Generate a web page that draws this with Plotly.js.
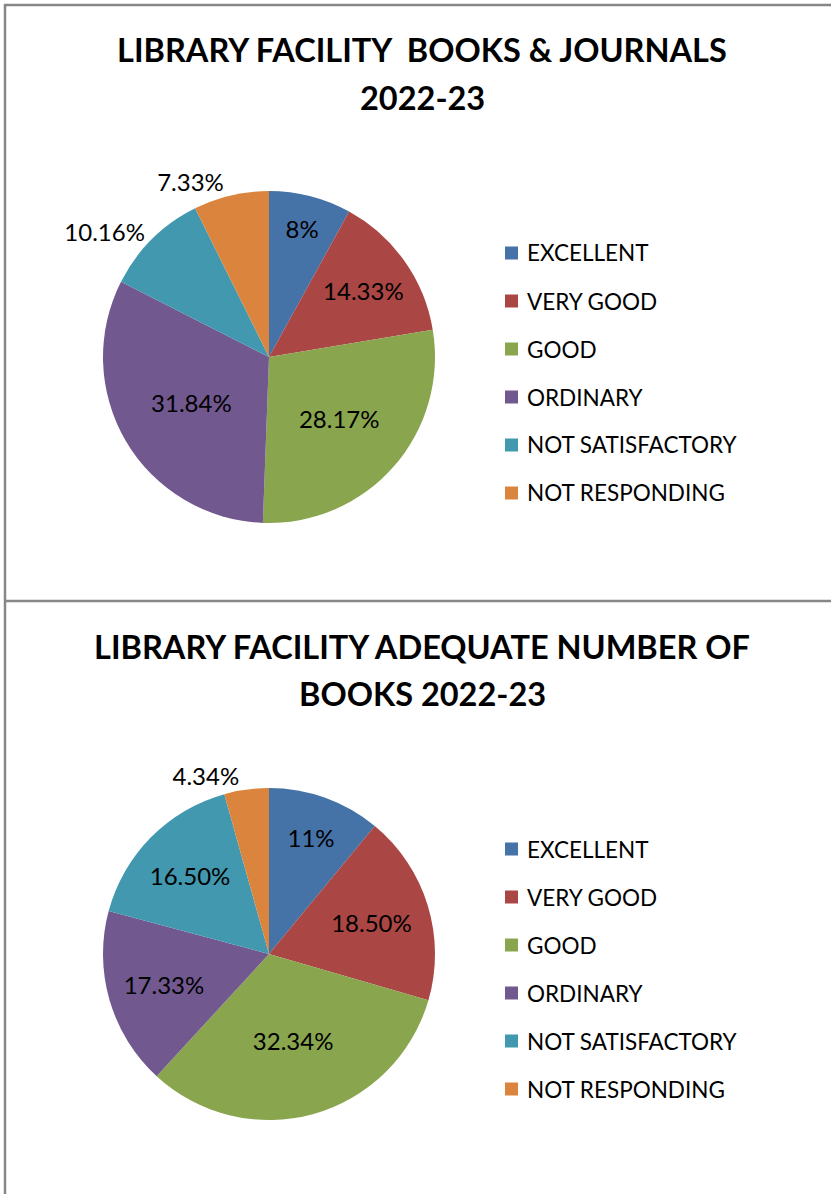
<!DOCTYPE html>
<html>
<head>
<meta charset="utf-8">
<script src="https://cdn.plot.ly/plotly-3.0.1.min.js"></script>
<style>html,body{margin:0;padding:0;background:#fff;}#chart{width:831px;height:1194px;}</style>
</head>
<body>
<div id="chart"></div>
<script>
// ---- data ----
const categories = ["EXCELLENT", "VERY GOOD", "GOOD", "ORDINARY", "NOT SATISFACTORY", "NOT RESPONDING"];
const colors = ["#4572A7", "#AA4643", "#89A54E", "#71588F", "#4198AF", "#DB843D"];

const title1 = ["LIBRARY FACILITY  BOOKS & JOURNALS", "2022-23"];
const values1 = [8, 14.33, 28.17, 31.84, 10.16, 7.33];
const labels1 = ["8%", "14.33%", "28.17%", "31.84%", "10.16%", "7.33%"];
const pos1 = ["inside", "inside", "inside", "inside", "outside", "outside"];

const title2 = ["LIBRARY FACILITY ADEQUATE NUMBER OF", "BOOKS 2022-23"];
const values2 = [11, 18.50, 32.34, 17.33, 16.50, 4.34];
const labels2 = ["11%", "18.50%", "32.34%", "17.33%", "16.50%", "4.34%"];
const pos2 = ["inside", "inside", "inside", "inside", "inside", "outside"];

// ---- layout helpers ----
const W = 831, H = 1194;
const FONT = "Lato, 'Liberation Sans', Arial, sans-serif";
const px = x => x / W;
const py = y => 1 - y / H;

function pieTrace(values, text, pos, cy) {
  const cx = 269, r = 166;
  return {
    type: "pie",
    values: values,
    labels: categories,
    text: text,
    textinfo: "text",
    textposition: pos,
    insidetextorientation: "horizontal",
    sort: false,
    direction: "clockwise",
    rotation: 0,
    marker: {colors: colors, line: {width: 0}},
    textfont: {family: FONT, size: 24, color: "#000"},
    insidetextfont: {family: FONT, size: 24, color: "#000"},
    outsidetextfont: {family: FONT, size: 24, color: "#000"},
    showlegend: false,
    hoverinfo: "label+text",
    domain: {x: [px(cx - r), px(cx + r)], y: [py(cy + r), py(cy - r)]}
  };
}

const traces = [pieTrace(values1, labels1, pos1, 357), pieTrace(values2, labels2, pos2, 954)];

const shapes = [
  {type: "line", xref: "paper", yref: "paper", x0: px(5), x1: px(5), y0: py(4), y1: py(1200), line: {color: "#878787", width: 2.5}},
  {type: "line", xref: "paper", yref: "paper", x0: px(4), x1: px(840), y0: py(5), y1: py(5), line: {color: "#878787", width: 2.5}},
  {type: "line", xref: "paper", yref: "paper", x0: px(4), x1: px(840), y0: py(601), y1: py(601), line: {color: "#878787", width: 2.5}}
];
const annotations = [];
[[title1, 49], [title2, 645]].forEach(([lines, y0]) => {
  lines.forEach((t, i) => {
    annotations.push({text: t, x: px(422), y: py(y0 + 47 * i + 1), xref: "paper", yref: "paper",
      xanchor: "center", yanchor: "middle", showarrow: false,
      font: {family: FONT, size: 32.5, color: "#000", weight: "bold"}});
  });
});

// manual legends built from categories/colors
[253, 849].forEach(top => {
  categories.forEach((c, i) => {
    const yc = top + 48 * i;
    shapes.push({type: "rect", xref: "paper", yref: "paper", x0: px(505), x1: px(518), y0: py(yc + 6.5), y1: py(yc - 6.5),
      fillcolor: colors[i], line: {width: 0}});
    annotations.push({text: c, x: px(525), y: py(yc), xref: "paper", yref: "paper", xanchor: "left", yanchor: "middle",
      showarrow: false, font: {family: FONT, size: 22.5, color: "#000"}});
  });
});

const layout = {
  width: W, height: H,
  margin: {l: 0, r: 0, t: 0, b: 0},
  paper_bgcolor: "#fff",
  showlegend: false,
  shapes: shapes,
  annotations: annotations
};

Plotly.newPlot("chart", traces, layout, {displayModeBar: false, staticPlot: true});
</script>
</body>
</html>
